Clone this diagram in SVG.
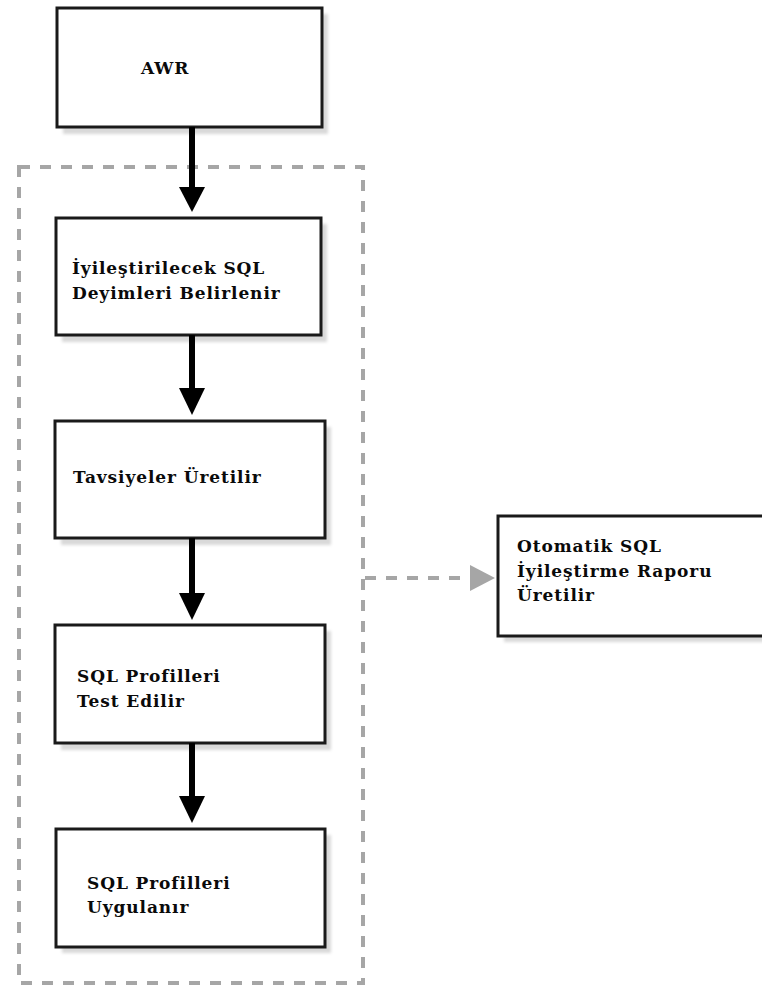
<svg xmlns="http://www.w3.org/2000/svg" width="762" height="992" viewBox="0 0 762 992">
  <style>
    .box { fill: #ffffff; stroke: #1a1a1a; stroke-width: 3; }
    .shadow { fill: #d9d9d9; filter: url(#soft); }
    .label { font-family: "DejaVu Serif", "Liberation Serif", serif; font-weight: bold; font-size: 17px; letter-spacing: 0.9px; fill: #0a0a0a; }
    .flow { stroke: #000000; stroke-width: 6; fill: none; }
    .head { fill: #000000; }
    .frame { fill: none; stroke: #a6a6a6; stroke-width: 4; stroke-dasharray: 11 10; }
    .link { stroke: #a6a6a6; stroke-width: 4; stroke-dasharray: 11 10; fill: none; }
    .linkhead { fill: #a6a6a6; }
  </style>
  <defs>
    <filter id="soft" x="-10%" y="-10%" width="120%" height="120%">
      <feGaussianBlur stdDeviation="1.5"/>
    </filter>
  </defs>
  <rect width="762" height="992" fill="#ffffff"/>

  <!-- dashed grouping frame -->
  <rect class="frame" x="19" y="167" width="344" height="816"/>

  <g id="node-awr">
    <rect class="shadow" x="63" y="14" width="265" height="120"/>
    <rect class="box" x="57" y="8" width="265" height="119"/>
    <text class="label" x="141" y="74">AWR</text>
  </g>

  <g id="node-belirle">
    <rect class="shadow" x="62" y="224" width="265" height="118"/>
    <rect class="box" x="56" y="218" width="265" height="117"/>
    <text class="label" x="72" y="274">İyileştirilecek SQL</text>
    <text class="label" x="72" y="299">Deyimleri Belirlenir</text>
  </g>

  <g id="node-tavsiye">
    <rect class="shadow" x="61" y="427" width="270" height="118"/>
    <rect class="box" x="55" y="421" width="270" height="117"/>
    <text class="label" x="73" y="483">Tavsiyeler Üretilir</text>
  </g>

  <g id="node-test">
    <rect class="shadow" x="61" y="631" width="270" height="119"/>
    <rect class="box" x="55" y="625" width="270" height="118"/>
    <text class="label" x="77" y="682">SQL Profilleri</text>
    <text class="label" x="77" y="707">Test Edilir</text>
  </g>

  <g id="node-uygula">
    <rect class="shadow" x="62" y="835" width="269" height="118"/>
    <rect class="box" x="56" y="829" width="269" height="118"/>
    <text class="label" x="87" y="889">SQL Profilleri</text>
    <text class="label" x="87" y="913">Uygulanır</text>
  </g>

  <g id="node-rapor">
    <rect class="shadow" x="504" y="522" width="270" height="120"/>
    <rect class="box" x="498" y="516" width="270" height="120"/>
    <text class="label" x="517" y="552">Otomatik SQL</text>
    <text class="label" x="517" y="577">İyileştirme Raporu</text>
    <text class="label" x="517" y="601">Üretilir</text>
  </g>

  <g id="connectors">
    <line class="flow" x1="192" y1="127" x2="192" y2="190"/>
    <polygon class="head" points="179,187 205,187 192,212"/>

    <line class="flow" x1="192" y1="335" x2="192" y2="391"/>
    <polygon class="head" points="179,388 205,388 192,415"/>

    <line class="flow" x1="192" y1="538" x2="192" y2="596"/>
    <polygon class="head" points="179,593 205,593 192,620"/>

    <line class="flow" x1="192" y1="743" x2="192" y2="799"/>
    <polygon class="head" points="179,796 205,796 192,823"/>

    <line class="link" x1="365" y1="578" x2="470" y2="578"/>
    <polygon class="linkhead" points="470,565 470,591 495,578"/>
  </g>
</svg>
